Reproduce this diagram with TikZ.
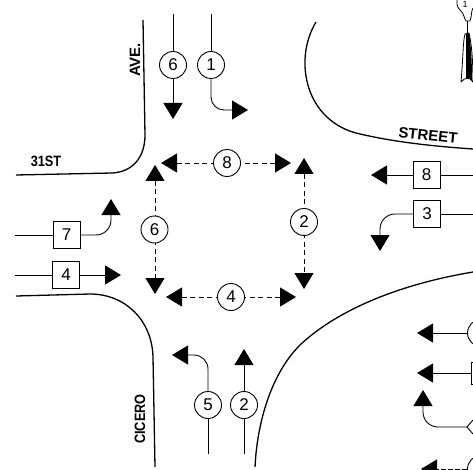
\documentclass[tikz,border=0pt]{standalone}
\usepackage{fontspec}
\setmainfont{Liberation Sans}
\usetikzlibrary{arrows.meta}
\tikzset{
  x=1pt,y=-1pt,
  num/.style={draw,circle,line width=.9pt,minimum size=27pt,inner sep=0pt,font=\fontsize{17}{17}\selectfont,fill=white},
  sq/.style={draw,rectangle,line width=.9pt,minimum size=27pt,inner sep=0pt,font=\fontsize{17}{17}\selectfont,fill=white},
  flow/.style={line width=.9pt,-{Triangle[width=19pt,length=16pt]}},
  plain/.style={line width=.9pt},
  both/.style={line width=.9pt,dash pattern=on 5pt off 3.5pt,{Triangle[width=19pt,length=16pt]}-{Triangle[width=19pt,length=16pt]}},
  curb/.style={line width=1.3pt},
  lab/.style={font=\bfseries\fontsize{15}{15}\selectfont,inner sep=0pt}
}
\begin{document}
\begin{tikzpicture}
\useasboundingbox (0,0) rectangle (473,470);
\clip (0,0) rectangle (473,470);
% curbs
\draw[curb] (143,20) -- (145,135) .. controls (145,158) and (132,172) .. (112,173) -- (16,175);
\draw[curb] (16,296) -- (90,294) .. controls (125,294) and (152,320) .. (153,357) -- (155,467);
\draw[curb] (316,22) .. controls (293,60) and (305,122) .. (360,134) .. controls (395,142) and (430,146) .. (473,149);
\draw[curb] (473,272) .. controls (395,285) and (335,312) .. (300,345) .. controls (270,375) and (257,425) .. (255,467);
% labels
\node[lab,rotate=90] (lave) at (135,60) {AVE.};
\node[lab] (lst) at (46,161.5) {\scalebox{.85}[1]{31ST}};
\node[lab,rotate=-6] (lstreet) at (428,135) {STREET};
\node[lab,rotate=90] (lcic) at (140,419) {\scalebox{.85}[1]{CICERO}};
% top approach
\coordinate (t6) at (173,14); \coordinate (t6e) at (173,119);
\coordinate (t1) at (211,14); \coordinate (t1e) at (248,110);
\node[num] (n6t) at (173,65) {6};
\node[num] (n1) at (211,65) {1};
\draw[plain] (t6) -- (n6t);
\draw[flow] (n6t) -- (t6e);
\draw[plain] (t1) -- (n1);
\draw[flow,rounded corners=13pt] (n1) -- (211,110) -- (t1e);
% right approach
\coordinate (r8) at (473,175); \coordinate (r8e) at (371,175);
\coordinate (r3) at (473,214); \coordinate (r3e) at (380,251);
\node[sq] (s8) at (426.5,175) {8};
\node[sq] (s3) at (427,214) {3};
\draw[plain] (r8) -- (s8);
\draw[flow] (s8) -- (r8e);
\draw[plain] (r3) -- (s3);
\draw[flow,rounded corners=15pt] (s3) -- (380,214) -- (r3e);
% left approach
\coordinate (l7) at (15,235); \coordinate (l7e) at (111,199);
\coordinate (l4) at (15,275); \coordinate (l4e) at (121,275);
\node[sq] (s7) at (66.5,235) {7};
\node[sq] (s4) at (66,275) {4};
\draw[plain] (l7) -- (s7);
\draw[flow,rounded corners=15pt] (s7) -- (111,235) -- (l7e);
\draw[plain] (l4) -- (s4);
\draw[flow] (s4) -- (l4e);
% bottom approach
\coordinate (b5) at (208,454); \coordinate (b5e) at (172,355);
\coordinate (b2) at (244,454); \coordinate (b2e) at (244,349);
\node[num] (n5) at (208,405) {5};
\node[num] (n2b) at (244,405) {2};
\draw[plain] (b5) -- (n5);
\draw[flow,rounded corners=14pt] (n5) -- (208,355) -- (b5e);
\draw[plain] (b2) -- (n2b);
\draw[flow] (n2b) -- (b2e);
% central pedestrian
\coordinate (p8a) at (161,163); \coordinate (p8b) at (291,163);
\coordinate (p6a) at (155,165); \coordinate (p6b) at (155,294);
\coordinate (p2a) at (304,158); \coordinate (p2b) at (304,289);
\coordinate (p4a) at (166,297); \coordinate (p4b) at (296,297);
\draw[both] (p8a) -- (p8b);
\draw[both] (p6a) -- (p6b);
\draw[both] (p2a) -- (p2b);
\draw[both] (p4a) -- (p4b);
\node[num] (c8) at (227,163) {8};
\node[num] (c6) at (154.5,229.5) {6};
\node[num] (c2) at (304,222) {2};
\node[num] (c4) at (231,297) {4};
% lower right, cut by the edge
\coordinate (q1e) at (417,333); \coordinate (q2e) at (417,373);
\coordinate (q3e) at (423,390); \coordinate (q4e) at (421,469);
\coordinate (q3) at (467,427);
\node[num] (q1) at (481,333) {};
\node[sq,minimum size=22pt] (q2) at (482,373) {};
\node[num] (q4) at (481,469) {};
\draw[flow] (q1) -- (q1e);
\draw[flow] (q2) -- (q2e);
\draw[flow,rounded corners=15pt] (q3) -- (423,427) -- (q3e);
\draw[plain] (473,420) -- (q3) -- (473,434);
\draw[flow,dash pattern=on 5pt off 2pt] (q4) -- (q4e);
% signal figure, top right
\draw[line width=.8pt] (457,0) .. controls (456,6) and (459,9) .. (461,11) .. controls (464,14) and (464,18) .. (466,21) -- (470,21) .. controls (472,16) and (471,11) .. (473,8);
\draw[line width=.8pt] (467,21) -- (467,33);
\draw[line width=.8pt] (461,82) .. controls (463,60) and (463,40) .. (465,34) -- (469,33) .. controls (472,45) and (473,65) .. (473,82) .. controls (470,77) and (465,77) .. (461,82);
\fill (466,34) -- (469,33) .. controls (471,45) and (472,60) .. (472,81) .. controls (470,78) and (468,77) .. (466,78) -- cycle;
\node[inner sep=0pt,font=\fontsize{9}{9}\selectfont] (sig) at (465,4.5) {1};
\end{tikzpicture}
\end{document}
